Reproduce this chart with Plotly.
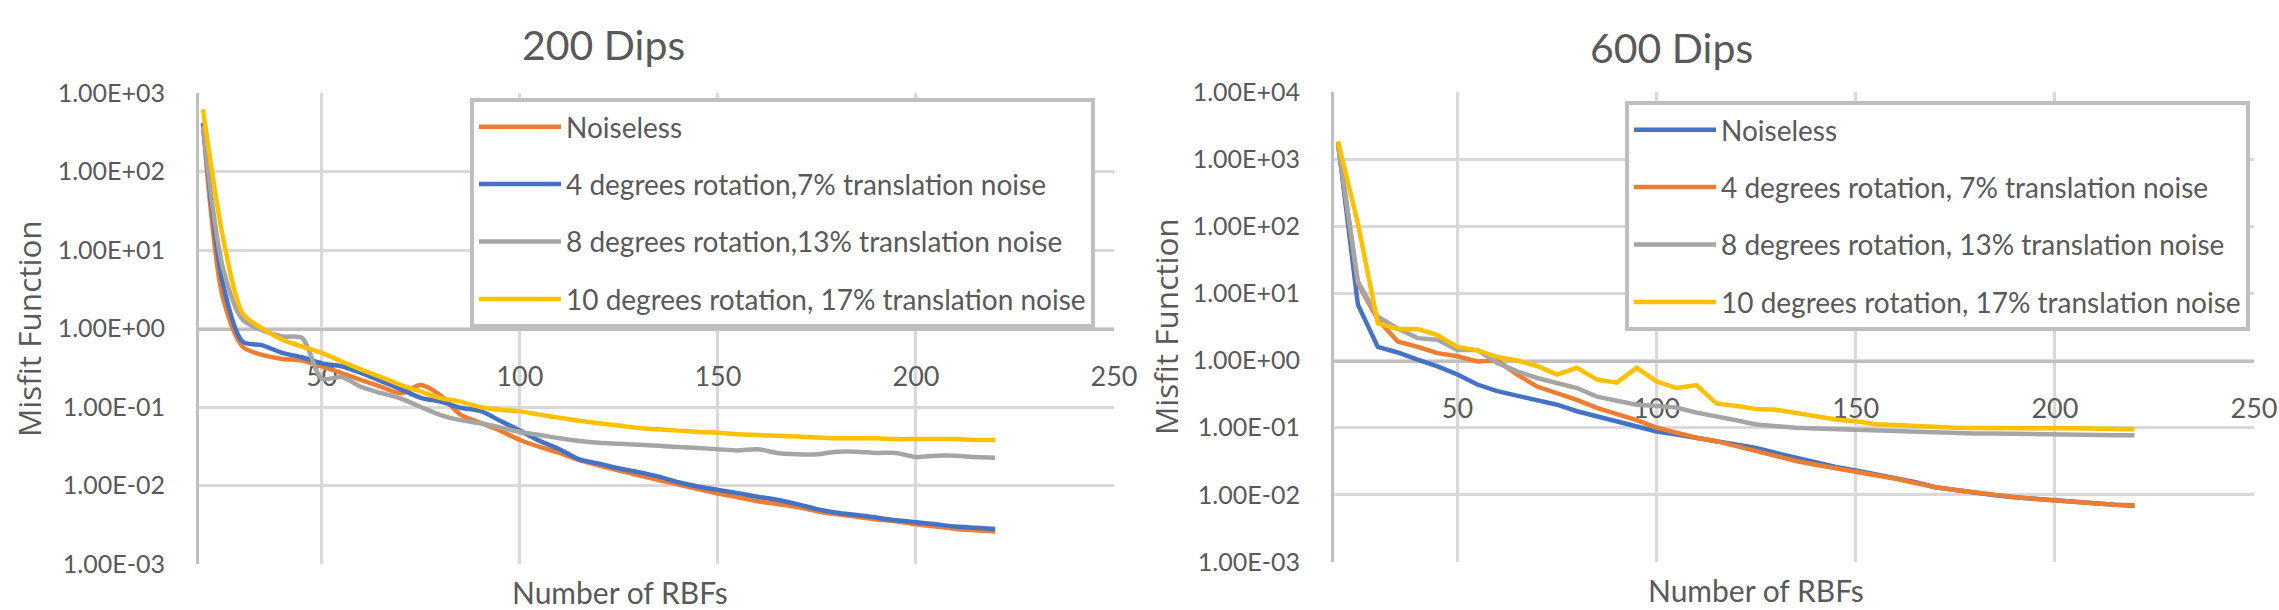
import plotly.graph_objects as go

# ---------------- data ----------------
rbfs = [20, 25, 30, 35, 40, 45, 50, 55, 60, 65, 70, 75, 80, 85, 90, 95, 100, 105, 110, 115,
        120, 125, 130, 135, 140, 145, 150, 155, 160, 165, 170, 175, 180, 185, 190, 195, 200,
        205, 210, 215, 220]

names_200 = ["Noiseless",
             "4 degrees rotation,7% translation noise",
             "8 degrees rotation,13% translation noise",
             "10 degrees rotation, 17% translation noise"]
names_600 = ["Noiseless",
             "4 degrees rotation, 7% translation noise",
             "8 degrees rotation, 13% translation noise",
             "10 degrees rotation, 17% translation noise"]

d200_noiseless = [400, 2.5, 0.59, 0.46, 0.41, 0.39, 0.33, 0.27, 0.22, 0.18, 0.15, 0.19, 0.14, 0.08,
                  0.063, 0.05, 0.038, 0.031, 0.026, 0.021, 0.018, 0.0155, 0.0135, 0.0117, 0.0103,
                  0.0090, 0.0079, 0.0071, 0.0063, 0.0058, 0.0053, 0.0047, 0.0043, 0.0040, 0.0037,
                  0.0035, 0.0032, 0.0030, 0.0028, 0.0027, 0.0026]
d200_rot4 = [420, 3.8, 0.68, 0.61, 0.49, 0.43, 0.36, 0.33, 0.27, 0.214, 0.168, 0.131, 0.117, 0.098,
             0.089, 0.067, 0.050, 0.037, 0.029, 0.0215, 0.019, 0.0165, 0.0148, 0.013, 0.011, 0.0097,
             0.0088, 0.0080, 0.0072, 0.0066, 0.0058, 0.0050, 0.0045, 0.0042, 0.0039, 0.0036,
             0.0034, 0.0032, 0.0030, 0.0029, 0.0028]
d200_rot8 = [380, 6, 1.3, 0.95, 0.79, 0.76, 0.23, 0.24, 0.18, 0.15, 0.128, 0.10, 0.079, 0.068, 0.062,
             0.055, 0.048, 0.044, 0.040, 0.037, 0.035, 0.034, 0.033, 0.032, 0.031, 0.030, 0.029,
             0.028, 0.029, 0.026, 0.025, 0.025, 0.027, 0.027, 0.026, 0.026, 0.023, 0.024, 0.024,
             0.023, 0.0225]
d200_rot10 = [620, 15, 1.57, 1.0, 0.72, 0.59, 0.49, 0.38, 0.30, 0.24, 0.19, 0.157, 0.13, 0.117, 0.10,
              0.092, 0.088, 0.080, 0.073, 0.067, 0.062, 0.058, 0.054, 0.052, 0.050, 0.048, 0.047,
              0.045, 0.044, 0.043, 0.042, 0.041, 0.040, 0.040, 0.040, 0.039, 0.039, 0.039, 0.039,
              0.038, 0.038]

d600_noiseless = [1800, 6.8, 1.6, 1.32, 1.03, 0.82, 0.62, 0.44, 0.35, 0.30, 0.26, 0.22, 0.176, 0.148,
                  0.125, 0.103, 0.088, 0.079, 0.070, 0.063, 0.057, 0.050, 0.042, 0.036, 0.030, 0.026,
                  0.023, 0.020, 0.018, 0.0155, 0.013, 0.0118, 0.0108, 0.0099, 0.0092, 0.0087, 0.0083,
                  0.0078, 0.0074, 0.0071, 0.0069]
d600_rot4 = [1700, 14, 4.1, 1.93, 1.6, 1.29, 1.16, 0.97, 1.0, 0.62, 0.41, 0.33, 0.26, 0.197, 0.158,
             0.13, 0.10, 0.085, 0.071, 0.063, 0.053, 0.045, 0.037, 0.032, 0.028, 0.025, 0.022, 0.0195,
             0.0174, 0.015, 0.013, 0.0118, 0.0108, 0.0099, 0.0092, 0.0087, 0.0082, 0.0078, 0.0074,
             0.0071, 0.0070]
d600_rot8 = [1700, 15, 4.5, 3.0, 2.16, 2.05, 1.44, 1.44, 0.92, 0.69, 0.55, 0.47, 0.39, 0.29, 0.25,
             0.22, 0.21, 0.20, 0.168, 0.15, 0.129, 0.112, 0.105, 0.10, 0.097, 0.095, 0.091, 0.088,
             0.087, 0.087, 0.085, 0.084, 0.082, 0.082, 0.081, 0.079, 0.077, 0.077, 0.077, 0.077, 0.077]
d600_rot10 = [1850, 110, 3.6, 2.95, 2.95, 2.4, 1.6, 1.42, 1.13, 1.0, 0.83, 0.62, 0.78, 0.52, 0.47,
              0.78, 0.49, 0.39, 0.43, 0.23, 0.21, 0.19, 0.185, 0.166, 0.15, 0.133, 0.125, 0.113,
              0.11, 0.106, 0.103, 0.10, 0.099, 0.098, 0.098, 0.098, 0.098, 0.098, 0.098, 0.095, 0.095]

x_tickvals = [50, 100, 150, 200, 250]
x_ticktext = ["50", "100", "150", "200", "250"]
y200_tickvals = [1e-3, 1e-2, 1e-1, 1e0, 1e1, 1e2, 1e3]
y200_ticktext = ["1.00E-03", "1.00E-02", "1.00E-01", "1.00E+00", "1.00E+01", "1.00E+02", "1.00E+03"]
y600_tickvals = [1e-3, 1e-2, 1e-1, 1e0, 1e1, 1e2, 1e3, 1e4]
y600_ticktext = ["1.00E-03", "1.00E-02", "1.00E-01", "1.00E+00", "1.00E+01", "1.00E+02",
                 "1.00E+03", "1.00E+04"]

colors_200 = ["#ED7D31", "#4472C4", "#A5A5A5", "#FFC000"]
colors_600 = ["#4472C4", "#ED7D31", "#A5A5A5", "#FFC000"]

# ---------------- style ----------------
W, H = 2279, 610
TXT = "#595959"
GRID = "#D9D9D9"
AXL = "#BFBFBF"
FONT = "Lato, Carlito, 'Liberation Sans', sans-serif"
FONT2 = "'Open Sans', 'Noto Sans', sans-serif"


def fx(p):
    return p / W


def fy(p):
    return 1 - p / H


fig = go.Figure()

for i, (nm, ys) in enumerate(zip(names_200, [d200_noiseless, d200_rot4, d200_rot8, d200_rot10])):
    fig.add_trace(go.Scatter(
        x=rbfs, y=ys, name=nm, mode="lines", xaxis="x", yaxis="y",
        line=dict(color=colors_200[i], width=4.5, shape="spline", smoothing=0.8),
        legend="legend", legendgroup="a%d" % i))

for i, (nm, ys) in enumerate(zip(names_600, [d600_noiseless, d600_rot4, d600_rot8, d600_rot10])):
    fig.add_trace(go.Scatter(
        x=rbfs, y=ys, name=nm, mode="lines", xaxis="x2", yaxis="y2",
        line=dict(color=colors_600[i], width=4.5),
        legend="legend2", legendgroup="b%d" % i))

# plot area geometry (pixels)
L1, R1, T1, B1 = 199, 1114, 93, 564
L2, R2, T2, B2 = 1334, 2254, 92, 562

yd1 = [fy(B1), fy(T1)]
yd2 = [fy(B2), fy(T2)]
pos1 = yd1[0] + (yd1[1] - yd1[0]) * 3 / 6
pos2 = yd2[0] + (yd2[1] - yd2[0]) * 3 / 7

xcommon = dict(range=[19, 250], tickvals=x_tickvals, ticktext=x_ticktext, showgrid=True,
               gridcolor=GRID, gridwidth=2.5, showline=True, linecolor=AXL, linewidth=3,
               ticks="", ticklabelstandoff=23, zeroline=False, layer="below traces",
               tickfont=dict(family=FONT, size=27, color=TXT), anchor="free", automargin=False)
ycommon = dict(type="log", showgrid=True, gridcolor=GRID, gridwidth=2.5, showline=True,
               linecolor=AXL, linewidth=3, ticks="", ticklabelstandoff=26, zeroline=False,
               layer="below traces", tickfont=dict(family=FONT, size=25, color=TXT),
               automargin=False)

legcommon = dict(xanchor="left", yanchor="top", bordercolor=AXL, borderwidth=4, bgcolor="white",
                 font=dict(family=FONT, size=28, color=TXT), tracegroupgap=18, itemwidth=82,
                 traceorder="grouped")

fig.update_layout(
    template="none",
    width=W, height=H, autosize=False,
    margin=dict(l=0, r=0, t=0, b=0, pad=0, autoexpand=False),
    paper_bgcolor="white", plot_bgcolor="white",
    showlegend=True,
    xaxis=dict(domain=[fx(L1), fx(R1)], position=pos1, **xcommon),
    yaxis=dict(domain=yd1, anchor="x", range=[-3, 3], tickvals=y200_tickvals,
               ticktext=y200_ticktext, **ycommon),
    xaxis2=dict(domain=[fx(L2), fx(R2)], position=pos2, **xcommon),
    yaxis2=dict(domain=yd2, anchor="x2", range=[-3, 4], tickvals=y600_tickvals,
                ticktext=y600_ticktext, **ycommon),
    legend=dict(x=fx(470), y=fy(98), **legcommon),
    legend2=dict(x=fx(1625), y=fy(101), **legcommon),
)

annots = [
    dict(text="200 Dips", x=fx(603), y=fy(45), size=41, fam=FONT, ang=0),
    dict(text="600 Dips", x=fx(1671), y=fy(47), size=41, fam=FONT, ang=0),
    dict(text="Number of RBFs", x=fx(620), y=fy(592), size=30, fam=FONT, ang=0),
    dict(text="Number of RBFs", x=fx(1756), y=fy(590), size=30, fam=FONT, ang=0),
    dict(text="Misfit Function", x=fx(28), y=fy(329), size=31.5, fam=FONT2, ang=-90),
    dict(text="Misfit Function", x=fx(1165), y=fy(327), size=31.5, fam=FONT2, ang=-90),
]
for a in annots:
    fig.add_annotation(text=a["text"], x=a["x"], y=a["y"], xref="paper", yref="paper",
                       xanchor="center", yanchor="middle", showarrow=False, textangle=a["ang"],
                       font=dict(family=a["fam"], size=a["size"], color=TXT))

fig.write_html("out.html")
